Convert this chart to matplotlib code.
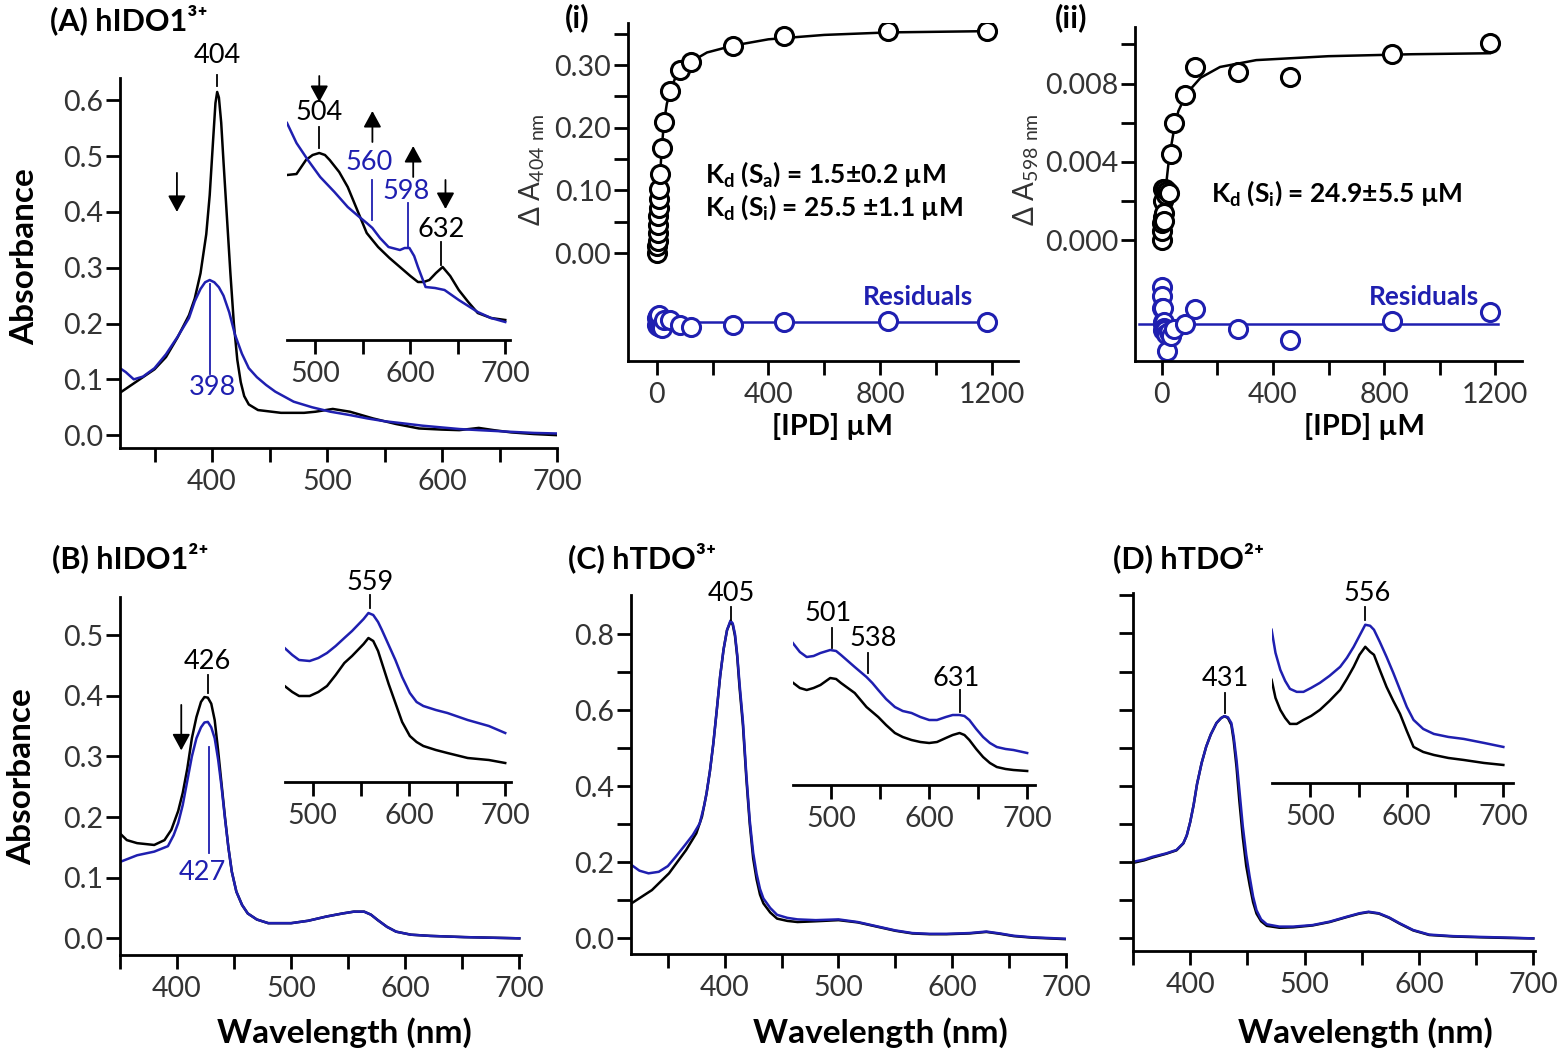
import matplotlib
matplotlib.use('Agg')
import matplotlib.pyplot as plt
from matplotlib.ticker import MultipleLocator, FixedLocator, NullFormatter

plt.rcParams['font.family'] = ['Lato', 'DejaVu Sans']
plt.rcParams['mathtext.fontset'] = 'custom'
plt.rcParams['mathtext.rm'] = 'Lato'
plt.rcParams['mathtext.bf'] = 'Lato:bold'
plt.rcParams['mathtext.default'] = 'regular'

BLUE = '#1f1fb0'
TXT = '#333333'

# ---------------- data ----------------
# (A) hIDO1(3+) main spectra
a_wl_k = [320, 330, 340, 350, 360, 370, 380, 385, 390, 395, 398, 401, 403, 404.5, 406, 408, 410, 413, 416, 419,
          422, 425, 428, 432, 440, 460, 480, 490, 505, 520, 540, 560, 580, 600, 615, 632, 645, 660, 680, 700]
a_abs_k = [0.076, 0.09, 0.104, 0.118, 0.14, 0.175, 0.215, 0.245, 0.29, 0.36, 0.43, 0.53, 0.595, 0.615, 0.605,
           0.56, 0.49, 0.39, 0.29, 0.2, 0.135, 0.095, 0.07, 0.055, 0.045, 0.04, 0.04, 0.042, 0.047, 0.042, 0.03,
           0.02, 0.012, 0.01, 0.009, 0.013, 0.009, 0.005, 0.002, 0.0]
a_wl_b = [320, 325, 332, 340, 350, 360, 370, 380, 385, 390, 394, 398, 402, 406, 410, 415, 420, 426, 432, 439,
          447, 455, 471, 487, 503, 520, 535, 550, 567, 583, 599, 615, 632, 660, 680, 700]
a_abs_b = [0.12, 0.113, 0.1, 0.105, 0.12, 0.145, 0.176, 0.21, 0.24, 0.262, 0.274, 0.278, 0.274, 0.265, 0.25,
           0.22, 0.18, 0.146, 0.12, 0.104, 0.09, 0.078, 0.06, 0.05, 0.042, 0.036, 0.03, 0.025, 0.021, 0.017,
           0.014, 0.011, 0.009, 0.006, 0.004, 0.003]
# (A) inset, relative absorbance
ai_wl_k = [470, 480, 490, 497, 504, 510, 515, 525, 534, 544, 554, 566, 578, 589, 600, 608, 614, 620, 627, 634,
           642, 651, 661, 671, 685, 700]
ai_v_k = [1.65, 1.66, 1.8, 1.85, 1.87, 1.85, 1.8, 1.68, 1.53, 1.3, 1.07, 0.93, 0.82, 0.73, 0.64, 0.58, 0.58,
          0.6, 0.67, 0.73, 0.64, 0.5, 0.38, 0.27, 0.22, 0.2]
ai_wl_b = [470, 480, 492, 505, 520, 534, 545, 554, 560, 568, 577, 589, 594, 599, 604, 608, 616, 626, 636, 651,
           671, 685, 700]
ai_v_b = [2.17, 1.97, 1.8, 1.63, 1.48, 1.33, 1.24, 1.17, 1.12, 1.02, 0.93, 0.9, 0.92, 0.92, 0.84, 0.73, 0.53,
          0.52, 0.5, 0.4, 0.28, 0.22, 0.18]

# (i) titration monitored at 404 nm
ipd_i = [0, 2, 3, 4, 5, 6, 7, 8, 9.5, 12, 18, 26, 48, 83, 122, 274, 456, 830, 1182]
dA_i = [0.0, 0.012, 0.019, 0.032, 0.045, 0.059, 0.072, 0.086, 0.102, 0.126, 0.168, 0.209, 0.258, 0.292,
        0.305, 0.330, 0.347, 0.355, 0.354]
res_i = [0.006, -0.004, 0.01, -0.002, 0.008, -0.006, 0.004, 0.0, 0.012, -0.008, -0.01, 0.004, 0.004, -0.005,
         -0.007, -0.005, 0.0, 0.002, 0.0]
fit_x_i = [0, 2, 5, 8, 12, 18, 26, 36, 48, 65, 83, 122, 180, 274, 400, 600, 830, 1182]
fit_y_i = [0, 0.013, 0.045, 0.085, 0.125, 0.168, 0.209, 0.238, 0.258, 0.278, 0.29, 0.305, 0.32, 0.331,
           0.341, 0.348, 0.352, 0.354]

# (ii) titration monitored at 598 nm
ipd_ii = [0, 1, 2, 3, 4, 5, 6, 8, 10, 12, 15, 20, 25, 32, 45, 83, 121, 274, 460, 830, 1181]
dA_ii = [0.0, 0.0005, 0.0009, 0.0012, 0.0026, 0.0020, 0.0011, 0.0014, 0.0010, 0.0026, 0.0023, 0.0025,
         0.0024, 0.0044, 0.0060, 0.0074, 0.00885, 0.0086, 0.00834, 0.00953, 0.01005]
res_ii = [0.0019, 0.0014, 0.0008, 0.0001, -0.0003, 0.0008, 0.0, 0.0001, -0.0002, -0.0003, -0.0005, -0.0014,
          -0.0004, -0.0006, -0.00026, 0.0, 0.00077, -0.00026, -0.00085, 0.00013, 0.00059]
fit_x_ii = [0, 5, 10, 18, 25, 34, 45, 60, 90, 140, 210, 340, 600, 900, 1181]
fit_y_ii = [0, 0.0009, 0.0018, 0.0031, 0.004, 0.0048, 0.0057, 0.0066, 0.0075, 0.0083, 0.00885, 0.0092,
            0.0094, 0.0095, 0.00955]

# (B) hIDO1(2+)
b_wl_k = [350, 356, 365, 380, 389, 395, 401, 405, 409, 413, 417, 421, 424, 427, 430, 433, 436, 439, 442, 445,
          448, 452, 457, 462, 470, 480, 500, 515, 531, 545, 555, 564, 570, 576, 584, 592, 605, 622, 652, 700]
b_abs_k = [0.173, 0.162, 0.157, 0.154, 0.162, 0.179, 0.21, 0.24, 0.28, 0.33, 0.365, 0.39, 0.398, 0.397,
           0.387, 0.36, 0.31, 0.255, 0.2, 0.15, 0.11, 0.077, 0.055, 0.041, 0.031, 0.025, 0.025, 0.029, 0.036,
           0.041, 0.044, 0.044, 0.039, 0.03, 0.019, 0.011, 0.006, 0.004, 0.002, 0.0]
b_wl_b = [350, 365, 380, 392, 397, 401, 405, 409, 413, 417, 421, 424, 427, 430, 433, 436, 439, 442, 445, 448,
          452, 457, 462, 470, 480, 500, 515, 531, 545, 555, 564, 570, 576, 584, 592, 605, 622, 652, 700]
b_abs_b = [0.126, 0.137, 0.143, 0.152, 0.17, 0.19, 0.22, 0.26, 0.3, 0.33, 0.348, 0.356, 0.357, 0.348, 0.33,
           0.295, 0.25, 0.198, 0.15, 0.11, 0.077, 0.055, 0.041, 0.031, 0.025, 0.025, 0.029, 0.036, 0.041, 0.044,
           0.044, 0.039, 0.03, 0.019, 0.011, 0.006, 0.004, 0.002, 0.0]
bi_wl = [471, 479, 486, 497, 506, 515, 524, 533, 541, 547, 553, 558, 563, 568, 572, 579, 586, 593, 601, 608,
         615, 628, 640, 661, 683, 700]
bi_v_b = [1.34, 1.27, 1.22, 1.21, 1.24, 1.29, 1.36, 1.44, 1.51, 1.57, 1.63, 1.69, 1.67, 1.6, 1.52, 1.37, 1.22,
          1.05, 0.89, 0.8, 0.76, 0.72, 0.69, 0.62, 0.56, 0.49]
bi_v_k = [0.96, 0.9, 0.86, 0.86, 0.9, 0.96, 1.07, 1.19, 1.26, 1.32, 1.38, 1.44, 1.41, 1.31, 1.19, 0.98, 0.79,
          0.6, 0.46, 0.4, 0.36, 0.32, 0.29, 0.24, 0.22, 0.19]

# (C) hTDO(3+)
c_wl_k = [318, 336, 351, 366, 375, 380, 384, 387, 390, 393, 396, 399, 402, 405, 407, 409, 411, 413, 416, 419,
          422, 425, 428, 431, 434, 440, 446, 455, 464, 480, 500, 517, 535, 550, 565, 580, 595, 615, 630, 642,
          654, 670, 700]
c_abs_k = [0.092, 0.127, 0.171, 0.232, 0.276, 0.32, 0.381, 0.44, 0.513, 0.6, 0.69, 0.76, 0.81, 0.832, 0.825,
           0.795, 0.74, 0.66, 0.56, 0.42, 0.3, 0.21, 0.155, 0.115, 0.092, 0.068, 0.052, 0.046, 0.043, 0.045,
           0.048, 0.042, 0.03, 0.02, 0.013, 0.011, 0.011, 0.013, 0.017, 0.012, 0.006, 0.002, -0.002]
c_wl_b = [318, 325, 333, 342, 350, 357, 365, 372, 378, 382, 384, 387, 390, 393, 396, 399, 402, 405, 407, 409,
          411, 413, 416, 419, 422, 425, 428, 431, 434, 440, 446, 455, 464, 480, 500, 517, 535, 550, 565, 580,
          595, 615, 630, 642, 654, 670, 700]
c_abs_b = [0.193, 0.178, 0.171, 0.175, 0.19, 0.215, 0.245, 0.272, 0.302, 0.35, 0.381, 0.44, 0.513, 0.6, 0.69,
           0.76, 0.81, 0.835, 0.828, 0.8, 0.745, 0.67, 0.57, 0.43, 0.31, 0.225, 0.17, 0.13, 0.105, 0.08, 0.062,
           0.054, 0.05, 0.048, 0.05, 0.043, 0.031, 0.021, 0.014, 0.012, 0.012, 0.014, 0.018, 0.013, 0.007,
           0.003, -0.001]
ci_wl = [460, 468, 475, 482, 489, 499, 505, 510, 517, 524, 530, 536, 542, 548, 556, 565, 573, 582, 591, 600,
         608, 617, 624, 631, 636, 641, 648, 655, 662, 669, 678, 686, 700]
ci_v_b = [1.43, 1.33, 1.28, 1.29, 1.32, 1.35, 1.34, 1.3, 1.24, 1.18, 1.13, 1.08, 1.02, 0.95, 0.86, 0.78, 0.74,
          0.72, 0.68, 0.65, 0.65, 0.68, 0.7, 0.7, 0.69, 0.65, 0.56, 0.48, 0.42, 0.38, 0.36, 0.35, 0.32]
ci_v_k = [1.03, 0.97, 0.95, 0.97, 1.0, 1.07, 1.06, 1.02, 0.97, 0.92, 0.85, 0.78, 0.73, 0.68, 0.6, 0.52, 0.48,
          0.45, 0.43, 0.42, 0.43, 0.47, 0.5, 0.52, 0.5, 0.45, 0.36, 0.28, 0.22, 0.18, 0.16, 0.15, 0.14]

# (D) hTDO(2+)
d_wl = [350, 360, 367, 379, 388, 394, 397, 400, 403, 406, 410, 414, 418, 423, 427, 430, 433, 436, 438, 440.5,
        443, 446, 449, 452, 455, 458, 462, 467, 478, 490, 507, 522, 537, 548, 556, 565, 574, 583, 595, 609, 630,
        653, 680, 700]
d_abs_b = [0.201, 0.207, 0.214, 0.223, 0.232, 0.25, 0.27, 0.305, 0.35, 0.405, 0.46, 0.503, 0.535, 0.565,
           0.578, 0.583, 0.58, 0.565, 0.53, 0.469, 0.39, 0.294, 0.22, 0.162, 0.11, 0.074, 0.05, 0.037, 0.031,
           0.031, 0.035, 0.044, 0.057, 0.066, 0.07, 0.066, 0.055, 0.04, 0.022, 0.01, 0.006, 0.004, 0.002, 0.0]
d_abs_k = [0.198, 0.205, 0.212, 0.222, 0.231, 0.249, 0.27, 0.305, 0.35, 0.405, 0.46, 0.503, 0.535, 0.565,
           0.578, 0.583, 0.578, 0.56, 0.52, 0.45, 0.36, 0.265, 0.19, 0.14, 0.095, 0.065, 0.045, 0.033, 0.028,
           0.029, 0.034, 0.043, 0.056, 0.065, 0.069, 0.065, 0.054, 0.039, 0.021, 0.009, 0.005, 0.003, 0.001,
           0.0]
di_wl = [460, 464, 469, 474, 479, 486, 493, 501, 510, 520, 531, 538, 545, 551, 557, 562, 566, 572, 579, 586,
         593, 600, 607, 617, 628, 643, 659, 680, 700]
di_v_b = [1.53, 1.3, 1.13, 1.02, 0.94, 0.91, 0.91, 0.95, 1.0, 1.07, 1.16, 1.25, 1.36, 1.47, 1.58, 1.57, 1.53,
          1.41, 1.26, 1.1, 0.93, 0.76, 0.63, 0.54, 0.49, 0.46, 0.44, 0.4, 0.36]
di_v_k = [1.03, 0.85, 0.73, 0.65, 0.59, 0.59, 0.63, 0.67, 0.73, 0.82, 0.93, 1.04, 1.16, 1.28, 1.36, 1.31, 1.28,
          1.13, 0.96, 0.82, 0.69, 0.52, 0.36, 0.31, 0.28, 0.25, 0.23, 0.2, 0.18]

# ---------------- layout helpers ----------------
W, H = 1568, 1061
fig = plt.figure(figsize=(W / 100, H / 100), dpi=100)


def axes_px(x0, y0, x1, y1):
    return fig.add_axes([x0 / W, 1 - y1 / H, (x1 - x0) / W, (y1 - y0) / H])


def ftext(x, y, s, **kw):
    fig.text(x / W, 1 - y / H, s, **kw)


def style(ax, xlim, ylim, inset=False):
    ax.set_xlim(*xlim)
    ax.set_ylim(*ylim)
    ax.patch.set_alpha(0)
    for side in ['top', 'right']:
        ax.spines[side].set_visible(False)
    ax.spines['bottom'].set_linewidth(2)
    ax.spines['left'].set_linewidth(2)
    ax.tick_params(which='both', direction='out', length=10, width=2, labelsize=20.5, labelcolor=TXT)
    ax.tick_params(axis='x', which='both', pad=5)
    ax.tick_params(axis='y', which='both', pad=2)
    if inset:
        ax.spines['left'].set_visible(False)
        ax.set_yticks([])


def nm_ticks(ax):
    ax.xaxis.set_major_locator(FixedLocator([400, 500, 600, 700]))
    ax.xaxis.set_minor_locator(FixedLocator([350, 450, 550, 650]))


def inset_ticks(ax):
    ax.xaxis.set_major_locator(FixedLocator([500, 600, 700]))
    ax.xaxis.set_minor_locator(FixedLocator([550, 650]))


def mark(ax, x, y0, y1, label, ty, color='black', tx=None):
    ax.plot([x, x], [y0, y1], color=color, lw=1.3, clip_on=False)
    ax.text(x if tx is None else tx, ty, label, color=color, fontsize=19.5, ha='center', va='center')


def arrow(ax, x, y_tail, y_tip):
    ax.annotate('', xy=(x, y_tip), xytext=(x, y_tail),
                arrowprops=dict(arrowstyle='-|>,head_length=0.55,head_width=0.3', mutation_scale=18,
                                color='black', lw=1.3, shrinkA=0, shrinkB=0), annotation_clip=False)


LW = 1.8
TITLE = dict(fontsize=22, fontweight='bold', va='center')
AXLAB = dict(fontsize=24, fontweight='bold', ha='center', va='center')

# ---------------- (A) ----------------
ax = axes_px(120, 78, 557, 448)
style(ax, (320, 700), (-0.023, 0.64))
nm_ticks(ax)
ax.yaxis.set_major_locator(MultipleLocator(0.1))
ax.yaxis.set_major_formatter(plt.FormatStrFormatter('%.1f'))
ax.plot(a_wl_k, a_abs_k, color='black', lw=LW)
ax.plot(a_wl_b, a_abs_b, color=BLUE, lw=LW)
mark(ax, 404.5, 0.625, 0.645, '404', 0.68)
mark(ax, 398, 0.27, 0.11, '398', 0.085, color=BLUE, tx=400)
arrow(ax, 369.5, 0.47, 0.40)

ax = axes_px(287, 110, 510, 340)
style(ax, (470, 705), (0, 2.3), inset=True)
inset_ticks(ax)
ax.plot(ai_wl_k, ai_v_k, color='black', lw=LW)
ax.plot(ai_wl_b, ai_v_b, color=BLUE, lw=LW)
mark(ax, 504, 2.13, 1.92, '504', 2.27)
mark(ax, 560, 1.6, 1.2, '560', 1.77, color=BLUE, tx=557)
mark(ax, 598, 1.37, 0.93, '598', 1.48, color=BLUE, tx=596)
mark(ax, 632, 0.98, 0.75, '632', 1.10)
arrow(ax, 504, 2.64, 2.38)
arrow(ax, 560, 1.98, 2.29)
arrow(ax, 603, 1.63, 1.94)
arrow(ax, 637, 1.6, 1.31)

ftext(50, 20, '(A) hIDO1³⁺', **TITLE)
ftext(25, 257, 'Absorbance', rotation=90, **AXLAB)

# ---------------- (i) ----------------
ax = axes_px(628, 23, 1018, 361)
style(ax, (-103, 1294), (-0.172, 0.367))
ax.xaxis.set_major_locator(FixedLocator([0, 400, 800, 1200]))
ax.xaxis.set_minor_locator(FixedLocator([200, 600, 1000]))
ax.yaxis.set_major_locator(FixedLocator([0.0, 0.1, 0.2, 0.3]))
ax.yaxis.set_minor_locator(FixedLocator([0.05, 0.15, 0.25, 0.35]))
ax.yaxis.set_major_formatter(plt.FormatStrFormatter('%.2f'))
ax.plot(fit_x_i, fit_y_i, color='black', lw=LW)
ax.plot(ipd_i, dA_i, 'o', ms=13, mfc='white', mec='black', mew=2.2)
ax.plot([-24, 1205], [-0.11, -0.11], color=BLUE, lw=LW)
ax.plot(ipd_i, [r - 0.11 for r in res_i], 'o', ms=13, mfc='white', mec=BLUE, mew=2.2)
ax.text(173, 0.126, 'K$_{d}$ (S$_{a}$) = 1.5±0.2 µM', fontsize=19, fontweight='bold', va='center')
ax.text(173, 0.073, 'K$_{d}$ (S$_{i}$) = 25.5 ±1.1 µM', fontsize=19, fontweight='bold', va='center')
ax.text(1133, -0.07, 'Residuals', fontsize=19, fontweight='bold', color=BLUE, ha='right', va='center')
ftext(565, 18, '(i)', **TITLE)
ftext(532, 170, 'Δ A$_{404\\ nm}$', fontsize=20, rotation=90, ha='center', va='center', color=TXT)
ftext(833, 426, '[IPD] µM', fontsize=21, fontweight='bold', ha='center', va='center')

# ---------------- (ii) ----------------
ax = axes_px(1135, 27, 1522, 361)
style(ax, (-96, 1296), (-0.00616, 0.01089))
ax.xaxis.set_major_locator(FixedLocator([0, 400, 800, 1200]))
ax.xaxis.set_minor_locator(FixedLocator([200, 600, 1000]))
ax.yaxis.set_major_locator(FixedLocator([0.0, 0.004, 0.008]))
ax.yaxis.set_minor_locator(FixedLocator([0.002, 0.006, 0.010]))
ax.yaxis.set_major_formatter(plt.FormatStrFormatter('%.3f'))
ax.plot(fit_x_ii, fit_y_ii, color='black', lw=LW)
ax.plot(ipd_ii, dA_ii, 'o', ms=13, mfc='white', mec='black', mew=2.2)
ax.plot([-80, 1208], [-0.00426, -0.00426], color=BLUE, lw=LW)
ax.plot(ipd_ii, [r - 0.00426 for r in res_ii], 'o', ms=13, mfc='white', mec=BLUE, mew=2.2)
ax.text(179, 0.0024, 'K$_{d}$ (S$_{i}$) = 24.9±5.5 µM', fontsize=19, fontweight='bold', va='center')
ax.text(1142, -0.0029, 'Residuals', fontsize=19, fontweight='bold', color=BLUE, ha='right', va='center')
ftext(1055, 18, '(ii)', **TITLE)
ftext(1026, 170, 'Δ A$_{598\\ nm}$', fontsize=20, rotation=90, ha='center', va='center', color=TXT)
ftext(1364, 426, '[IPD] µM', fontsize=21, fontweight='bold', ha='center', va='center')

# ---------------- (B) ----------------
ax = axes_px(120, 597, 521, 955)
style(ax, (350, 701.5), (-0.0275, 0.563))
nm_ticks(ax)
ax.yaxis.set_major_locator(MultipleLocator(0.1))
ax.yaxis.set_major_formatter(plt.FormatStrFormatter('%.1f'))
ax.plot(b_wl_k, b_abs_k, color='black', lw=LW)
ax.plot(b_wl_b, b_abs_b, color=BLUE, lw=LW)
mark(ax, 427, 0.434, 0.404, '426', 0.456)
mark(ax, 428, 0.316, 0.14, '427', 0.108, color=BLUE, tx=422)
arrow(ax, 403.7, 0.385, 0.31)

ax = axes_px(285, 580, 511, 782)
style(ax, (471.4, 706), (0, 2.02), inset=True)
inset_ticks(ax)
ax.plot(bi_wl, bi_v_k, color='black', lw=LW)
ax.plot(bi_wl, bi_v_b, color=BLUE, lw=LW)
mark(ax, 559.6, 1.87, 1.74, '559', 2.0)

ftext(52, 558, '(B) hIDO1²⁺', **TITLE)
ftext(22, 777, 'Absorbance', rotation=90, **AXLAB)
ftext(344, 1033, 'Wavelength (nm)', **AXLAB)

# ---------------- (C) ----------------
ax = axes_px(631, 595, 1066, 954)
style(ax, (317.6, 700), (-0.041, 0.9025))
nm_ticks(ax)
ax.yaxis.set_major_locator(FixedLocator([0.0, 0.2, 0.4, 0.6, 0.8]))
ax.yaxis.set_minor_locator(FixedLocator([0.1, 0.3, 0.5, 0.7]))
ax.yaxis.set_major_formatter(plt.FormatStrFormatter('%.1f'))
ax.plot(c_wl_k, c_abs_k, color='black', lw=LW)
ax.plot(c_wl_b, c_abs_b, color=BLUE, lw=LW)
mark(ax, 405.5, 0.872, 0.837, '405', 0.906)

ax = axes_px(793, 590, 1035, 785)
style(ax, (461, 708), (0, 1.95), inset=True)
inset_ticks(ax)
ax.plot(ci_wl, ci_v_k, color='black', lw=LW)
ax.plot(ci_wl, ci_v_b, color=BLUE, lw=LW)
mark(ax, 501, 1.57, 1.37, '501', 1.72, tx=497)
mark(ax, 538, 1.32, 1.12, '538', 1.47, tx=543)
mark(ax, 631, 0.95, 0.73, '631', 1.07, tx=628)

ftext(568, 558, '(C) hTDO³⁺', **TITLE)
ftext(880, 1033, 'Wavelength (nm)', **AXLAB)

# ---------------- (D) ----------------
ax = axes_px(1133, 593, 1535, 951)
style(ax, (350, 701.5), (-0.033, 0.906))
nm_ticks(ax)
ax.yaxis.set_major_locator(MultipleLocator(0.1))
ax.yaxis.set_major_formatter(NullFormatter())
ax.plot(d_wl, d_abs_k, color='black', lw=LW)
ax.plot(d_wl, d_abs_b, color=BLUE, lw=LW)
mark(ax, 430.4, 0.644, 0.591, '431', 0.683)

ax = axes_px(1272, 590, 1513, 783)
style(ax, (460.4, 710), (0, 1.927), inset=True)
inset_ticks(ax)
ax.plot(di_wl, di_v_k, color='black', lw=LW)
ax.plot(di_wl, di_v_b, color=BLUE, lw=LW)
mark(ax, 557, 1.76, 1.63, '556', 1.89, tx=558.6)

ftext(1113, 558, '(D) hTDO²⁺', **TITLE)
ftext(1365, 1033, 'Wavelength (nm)', **AXLAB)

fig.savefig('out.png', dpi=100)
